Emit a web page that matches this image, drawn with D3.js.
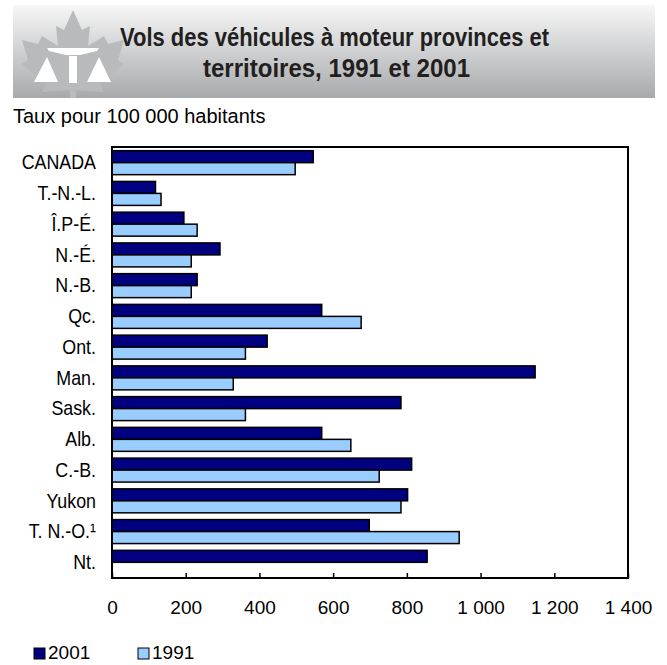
<!DOCTYPE html>
<html>
<head>
<meta charset="utf-8">
<script src="https://cdn.jsdelivr.net/npm/d3@7"></script>
<style>
  body { margin: 0; background: #fff; }
  svg { display: block; }
</style>
</head>
<body>
<div id="chart"></div>
<script>
const categories = ["CANADA", "T.-N.-L.", "Î.P-É.", "N.-É.", "N.-B.", "Qc.", "Ont.", "Man.", "Sask.", "Alb.", "C.-B.", "Yukon", "T. N.-O.¹", "Nt."]
const values2001 = [546, 118, 195, 293, 231, 569, 421, 1148, 784, 569, 813, 802, 698, 855]
const values1991 = [497, 133, 231, 215, 215, 676, 362, 329, 362, 648, 725, 784, 942, null]
const xTicks = [0, 200, 400, 600, 800, 1000, 1200, 1400]
const seriesNames = ["2001", "1991"]

const colormap = {
    dark: "#000080",
    light: "#99ccff",
    stroke: "#000000"
}
const FONT = "Liberation Sans, Arial, sans-serif"

const width = 667, height = 665
const svg = d3.select("#chart").append("svg")
    .attr("width", width).attr("height", height)

// banner
const defs = svg.append("defs")
const grad = defs.append("linearGradient").attr("id", "band")
    .attr("x1", 0).attr("y1", 0).attr("x2", 0).attr("y2", 1)
grad.append("stop").attr("offset", "0%").attr("stop-color", "#f7f7f7")
grad.append("stop").attr("offset", "100%").attr("stop-color", "#a7a9ac")

svg.append("rect").attr("x", 13).attr("y", 5).attr("width", 642).attr("height", 93)
    .attr("fill", "url(#band)")

// logo: maple leaf with scales
const logo = svg.append("g")
logo.append("path")
    .attr("fill", "#b9babc")
    .attr("d", "M73,10 L82,30 L90,26 L88,46 L104,36 L108,44 L124,40 L118,60 L124,64 L100,84 L104,92 L76,90 L76,98 L70,98 L70,90 L42,92 L46,84 L22,64 L28,60 L22,40 L38,44 L42,36 L58,46 L56,26 L64,30 Z")
logo.append("path").attr("fill", "#fff")
    .attr("d", "M47,48 L99,48 L97,51 L80,55 L66,55 L49,51 Z")
logo.append("rect").attr("fill", "#fff").attr("x", 69).attr("y", 56).attr("width", 8).attr("height", 27)
logo.append("path").attr("fill", "#fff").attr("d", "M47,57 L58,82 L34,82 Z")
logo.append("path").attr("fill", "#fff").attr("d", "M99,57 L111,82 L87,82 Z")

// title, condensed bold
const title = svg.append("g").attr("font-family", FONT).attr("font-weight", "bold")
    .attr("font-size", 25).attr("fill", "#231f20")
title.append("text").attr("x", 120).attr("y", 46)
    .attr("textLength", 429).attr("lengthAdjust", "spacingAndGlyphs")
    .text("Vols des véhicules à moteur provinces et")
title.append("text").attr("x", 203).attr("y", 77)
    .attr("textLength", 267).attr("lengthAdjust", "spacingAndGlyphs")
    .text("territoires, 1991 et 2001")

svg.append("text").attr("x", 13).attr("y", 123)
    .attr("font-family", FONT).attr("font-size", 20)
    .text("Taux pour 100 000 habitants")

// plot
const plot = { left: 112, right: 628, top: 147, bottom: 578 }

const x = d3.scaleLinear().domain([0, 1400]).range([plot.left, plot.right])
const y = d3.scaleBand().domain(categories).range([plot.top, plot.bottom])
    .paddingInner(0.22).paddingOuter(0.12)
const ySub = d3.scaleBand().domain(seriesNames).range([0, y.bandwidth()])

const rows = categories.map((c, i) => ({ name: c, v2001: values2001[i], v1991: values1991[i] }))

const bars = svg.append("g")
rows.forEach(r => {
    const g = bars.append("g").attr("transform", `translate(0,${y(r.name)})`)
    ;[["2001", r.v2001, colormap.dark], ["1991", r.v1991, colormap.light]].forEach(([s, v, col]) => {
        if (v == null) return
        g.append("rect")
            .attr("x", x(0)).attr("y", ySub(s))
            .attr("width", x(v) - x(0)).attr("height", ySub.bandwidth())
            .attr("fill", col).attr("stroke", colormap.stroke).attr("stroke-width", 1.5)
    })
})

// frame
svg.append("rect").attr("x", plot.left).attr("y", plot.top)
    .attr("width", plot.right - plot.left).attr("height", plot.bottom - plot.top)
    .attr("fill", "none").attr("stroke", "#000").attr("stroke-width", 2)

// x axis: ticks inside, labels below
const xAxis = svg.append("g").attr("transform", `translate(0,${plot.bottom})`)
    .call(d3.axisBottom(x).tickValues(xTicks).tickSize(-5).tickPadding(23)
        .tickFormat(d => d3.format(",")(d).replace(",", " ")))
xAxis.select(".domain").remove()
xAxis.selectAll(".tick line").attr("stroke", "#000").attr("stroke-width", 1.5)
xAxis.selectAll("text").attr("font-family", FONT)
    .attr("font-size", 19).attr("fill", "#000")

// category labels, narrow
const sx = 0.85
const yAxis = svg.append("g").attr("transform", `translate(${plot.left},0)`)
    .call(d3.axisLeft(y).tickSize(0).tickPadding(0))
yAxis.select(".domain").remove()
yAxis.selectAll("text")
    .attr("font-family", FONT).attr("font-size", 21).attr("fill", "#000")
    .attr("x", -16 / sx).attr("transform", `scale(${sx},1)`)

// legend
const legend = svg.append("g").attr("transform", "translate(34,648)")
seriesNames.forEach((s, i) => {
    const lg = legend.append("g").attr("transform", `translate(${i * 104},0)`)
    lg.append("rect").attr("width", 11).attr("height", 11)
        .attr("fill", i === 0 ? colormap.dark : colormap.light).attr("stroke", "#000").attr("stroke-width", 1)
    lg.append("text").attr("x", 14).attr("y", 11)
        .attr("font-family", FONT).attr("font-size", 19)
        .text(s)
})
</script>
</body>
</html>
